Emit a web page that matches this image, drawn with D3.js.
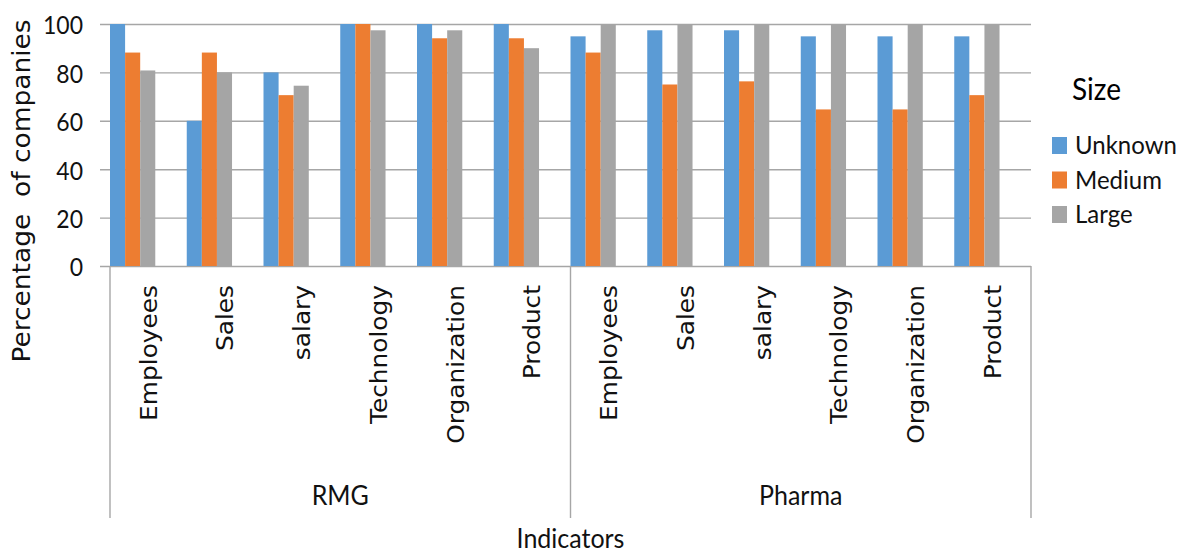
<!DOCTYPE html>
<html>
<head>
<meta charset="utf-8">
<script src="https://cdn.jsdelivr.net/npm/d3@7"></script>
<style>
  body { margin: 0; background: #fff; }
  svg { display: block; }
  text { white-space: pre; }
</style>
</head>
<body>
<svg id="chart" width="1181" height="553"></svg>
<script>
// Share of companies reporting each indicator, by industry and company size
const industries = ["RMG", "Pharma"];
const indicators = ["Employees", "Sales", "salary", "Technology", "Organization", "Product"];
const sizes = ["Unknown", "Medium", "Large"];
const unknownValues = [100, 60, 80, 100, 100, 100, 94.9, 97.4, 97.4, 94.9, 94.9, 94.9];
const mediumValues  = [88.2, 88.2, 70.6, 100, 94.1, 94.1, 88.2, 75, 76.3, 64.7, 64.7, 70.6];
const largeValues   = [80.8, 80, 74.5, 97.4, 97.4, 90, 100, 100, 100, 100, 100, 100];
const yTicks = [0, 20, 40, 60, 80, 100];
const sizeColors = ["#5b9bd5", "#ed7d31", "#a5a5a5"];

const svg = d3.select("#chart");
const plot = { left: 110, right: 1031, top: 24, bottom: 266, axisBottom: 518 };
const stretch = 1.08;             // text is drawn slightly taller than wide
const sansLabel = "'DejaVu Sans', sans-serif";
const sansText = "Lato, 'Open Sans', sans-serif";
const ink = "#111";

// one row per (industry, indicator)
const rows = [];
industries.forEach((ind, gi) => indicators.forEach((name, ci) => {
  const i = gi * indicators.length + ci;
  rows.push({ key: ind + "|" + name, industry: ind, name,
              values: [unknownValues[i], mediumValues[i], largeValues[i]] });
}));

const x0 = d3.scaleBand().domain(rows.map(d => d.key))
  .range([plot.left, plot.right]).paddingInner(0).paddingOuter(0);
const x1 = d3.scaleBand().domain(sizes).range([0, x0.bandwidth() * 0.59]);
const y = d3.scaleLinear().domain([0, 100]).range([plot.bottom, plot.top]);
const color = d3.scaleOrdinal().domain(sizes).range(sizeColors);

// value axis with gridlines
const yAxis = svg.append("g")
  .attr("transform", `translate(${plot.left - 10},0)`)
  .call(d3.axisLeft(y).tickValues(yTicks).tickSize(-(plot.right - plot.left + 10)).tickPadding(17));
yAxis.select(".domain").remove();
yAxis.selectAll(".tick line").attr("stroke", "#a6a6a6").attr("stroke-width", 1.4);
yAxis.selectAll(".tick text")
  .attr("font-family", sansText).attr("font-size", 23).attr("fill", ink)
  .attr("dy", null)
  .attr("y", 0)
  .attr("transform", `scale(1,${stretch})`)
  .attr("dominant-baseline", "central");

// bars
const groups = svg.append("g").selectAll("g").data(rows).join("g")
  .attr("transform", d => `translate(${x0(d.key)},0)`);
groups.selectAll("rect")
  .data(d => d.values.map((v, i) => ({ size: sizes[i], value: v })))
  .join("rect")
  .attr("x", d => x1(d.size))
  .attr("width", x1.bandwidth())
  .attr("y", d => y(d.value))
  .attr("height", d => y(0) - y(d.value))
  .attr("fill", d => color(d.size));

// category axis: dividers between industries
const dividerX = industries.map(ind => x0(ind + "|" + indicators[0])).concat([plot.right]);
svg.append("g").selectAll("line").data(dividerX).join("line")
  .attr("x1", d => d).attr("x2", d => d)
  .attr("y1", plot.bottom).attr("y2", plot.axisBottom)
  .attr("stroke", "#a6a6a6").attr("stroke-width", 1.4);

// indicator labels, rotated
svg.append("g").selectAll("text").data(rows).join("text")
  .attr("transform", d => `translate(${x0(d.key) + x0.bandwidth() / 2},285) scale(1,${stretch}) rotate(-90)`)
  .attr("text-anchor", "end")
  .attr("dy", "0.36em")
  .attr("font-family", sansLabel).attr("font-size", 23).attr("fill", ink)
  .text(d => d.name);

// industry labels
svg.append("g").selectAll("text").data(industries).join("text")
  .attr("transform", (d, i) => {
    const cx = (dividerX[i] + dividerX[i + 1]) / 2;
    return `translate(${cx},505) scale(1,${stretch})`;
  })
  .attr("text-anchor", "middle")
  .attr("font-family", sansText).attr("font-size", 25).attr("fill", ink)
  .text(d => d);

// axis titles
svg.append("text")
  .attr("transform", `translate(${(plot.left + plot.right) / 2},548) scale(1,${stretch})`)
  .attr("text-anchor", "middle")
  .attr("font-family", sansText).attr("font-size", 25).attr("fill", ink)
  .text("Indicators");

svg.append("text")
  .attr("transform", `translate(21,191) scale(1,${stretch}) rotate(-90)`)
  .attr("text-anchor", "middle")
  .attr("dy", "0.36em")
  .attr("font-family", sansLabel).attr("font-size", 24.5).attr("fill", ink)
  .text("Percentage  of companies");

// legend
const legend = svg.append("g").attr("transform", "translate(1052,0)");
legend.append("text")
  .attr("transform", `translate(20,100) scale(1,${stretch})`)
  .attr("font-family", sansText).attr("font-size", 28).attr("fill", "#000")
  .text("Size");
const item = legend.selectAll("g.item").data(sizes).join("g")
  .attr("class", "item")
  .attr("transform", (d, i) => `translate(0,${145.5 + i * 34.5})`);
item.append("rect")
  .attr("x", 0).attr("y", -8.5).attr("width", 15).attr("height", 17)
  .attr("fill", d => color(d));
item.append("text")
  .attr("transform", `translate(23,8.5) scale(1,${stretch})`)
  .attr("font-family", sansText).attr("font-size", 24).attr("fill", ink)
  .text(d => d);
</script>
</body>
</html>
